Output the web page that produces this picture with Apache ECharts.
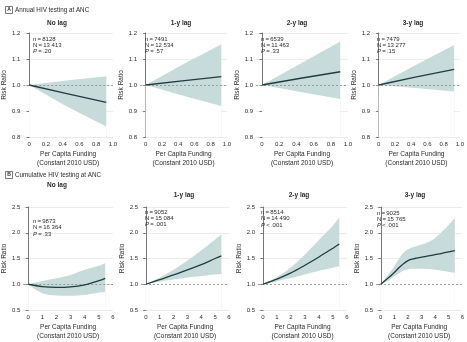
<!DOCTYPE html>
<html>
<head>
<meta charset="utf-8">
<script src="https://cdn.jsdelivr.net/npm/echarts@6/dist/echarts.min.js"></script>
<style>
  html, body { margin: 0; padding: 0; background: #fff; }
  #chart { width: 467px; height: 342px; }
</style>
</head>
<body>
<div id="chart"></div>
<script>
// panel titles
const lagTitles = ["No lag", "1-y lag", "2-y lag", "3-y lag"]

// A: annual HIV testing at ANC, funding 0-1
const annualX = [
  [0, 0.45, 0.92],
  [0, 0.45, 0.93],
  [0, 0.45, 0.91],
  [0, 0.45, 0.93]
]
const annualRR = [
  [1.0, 0.967, 0.933],
  [1.0, 1.016, 1.032],
  [1.0, 1.026, 1.051],
  [1.0, 1.03, 1.06]
]
const annualUpper = [
  [1.0, 1.017, 1.034],
  [1.0, 1.078, 1.157],
  [1.0, 1.083, 1.167],
  [1.0, 1.076, 1.154]
]
const annualLower = [
  [1.0, 0.917, 0.84],
  [1.0, 0.96, 0.919],
  [1.0, 0.973, 0.946],
  [1.0, 0.988, 0.975]
]
const annualStats = [
  ["8128", "13 413", "= .20"],
  ["7491", "12 534", "= .57"],
  ["6539", "11 463", "= .33"],
  ["7479", "13 277", "= .15"]
]

// B: cumulative HIV testing at ANC, funding 0-6
const cumX = [
  [0, 1, 2, 3, 4, 5, 5.45],
  [0, 1, 2, 3, 4, 5, 5.45],
  [0, 1, 2, 3, 4, 5, 5.45],
  [0, 0.5, 1, 1.5, 2, 2.5, 3, 3.5, 4, 4.5, 5, 5.45]
]
const cumRR = [
  [1.0, 0.955, 0.94, 0.95, 0.99, 1.07, 1.115],
  [1.0, 1.09, 1.18, 1.28, 1.38, 1.5, 1.55],
  [1.0, 1.1, 1.22, 1.37, 1.53, 1.7, 1.78],
  [1.0, 1.11, 1.23, 1.36, 1.46, 1.5, 1.525, 1.55, 1.575, 1.6, 1.63, 1.655]
]
const cumUpper = [
  [1.0, 1.065, 1.115, 1.18, 1.28, 1.36, 1.41],
  [1.0, 1.13, 1.28, 1.46, 1.66, 1.87, 1.97],
  [1.0, 1.14, 1.33, 1.58, 1.86, 2.14, 2.3],
  [1.0, 1.17, 1.35, 1.56, 1.68, 1.73, 1.77, 1.82, 1.9, 2.02, 2.15, 2.28]
]
const cumLower = [
  [1.0, 0.825, 0.78, 0.775, 0.79, 0.84, 0.85],
  [1.0, 1.05, 1.09, 1.13, 1.16, 1.19, 1.2],
  [1.0, 1.06, 1.12, 1.19, 1.26, 1.32, 1.35],
  [1.0, 1.06, 1.16, 1.24, 1.29, 1.3, 1.3, 1.295, 1.28, 1.26, 1.24, 1.225]
]
const cumStats = [
  ["9873", "16 364", "= .33"],
  ["9052", "15 084", "= .001"],
  ["8514", "14 490", "< .001"],
  ["9025", "15 765", "< .001"]
]

const annualTicks = [0, 0.2, 0.4, 0.6, 0.8, 1.0]
const cumTicks = [0, 1, 2, 3, 4, 5, 6]

const FONT = '"Liberation Sans Narrow", "Liberation Sans", sans-serif'
const FS = 6
const TEXT = "#2b2b2b"
const BAND = "#c7dbdb"
const LINE = "#1f3c3f"

const topLefts = [21, 140, 256, 373]
const topWidths = [92, 87, 92, 90]
const botLefts = [21, 141, 258, 376]
const botWidths = [92, 88, 89, 89]

const grids = []
const xAxes = []
const yAxes = []
const series = []
const graphics = []

function addPanel(idx, left, width, top, height, xs, rr, lo, hi, xCfg, yCfg, smooth) {
  grids.push({ left: left, top: top, width: width, height: height })
  xAxes.push({
    gridIndex: idx, type: "value", min: xCfg.min, max: xCfg.max,
    name: "Per Capita Funding\n(Constant 2010 USD)",
    nameLocation: "middle", nameGap: 13,
    nameTextStyle: { fontFamily: FONT, fontSize: FS + 0.5, color: TEXT, lineHeight: 9, verticalAlign: "top" },
    axisLine: { show: false }, axisTick: { show: false }, splitLine: { show: false },
    axisLabel: {
      customValues: xCfg.ticks, fontFamily: FONT, fontSize: FS, color: TEXT, margin: 4,
      formatter: v => xCfg.fmt(v)
    }
  })
  yAxes.push({
    gridIndex: idx, type: "value", min: yCfg.min, max: yCfg.max, interval: yCfg.interval,
    name: "Risk Ratio", nameLocation: "middle", nameGap: 12,
    nameTextStyle: { fontFamily: FONT, fontSize: FS + 0.5, color: TEXT },
    axisLine: { show: true, lineStyle: { color: "#555", width: 0.8 } },
    axisTick: { show: true, length: 2.5, lineStyle: { color: "#555", width: 0.8 } },
    axisLabel: { fontFamily: FONT, fontSize: FS, color: TEXT, margin: 3, formatter: v => v.toFixed(1) },
    splitLine: { show: true, lineStyle: { color: "#e6e6e6", width: 0.8 } }
  })
  // confidence band: upper edge filled down, lower edge filled white on top
  series.push({
    type: "line", xAxisIndex: idx, yAxisIndex: idx, smooth: smooth, z: 2,
    symbol: "none", silent: true, lineStyle: { width: 0 },
    areaStyle: { color: BAND, opacity: 1, origin: "start" },
    data: xs.map((x, i) => [x, hi[i]])
  })
  series.push({
    type: "line", xAxisIndex: idx, yAxisIndex: idx, smooth: smooth, z: 3,
    symbol: "none", silent: true, lineStyle: { width: 0 },
    areaStyle: { color: "#fff", opacity: 1, origin: "start" },
    data: xs.map((x, i) => [x, lo[i]])
  })
  series.push({
    type: "line", xAxisIndex: idx, yAxisIndex: idx, smooth: smooth,
    symbol: "none", silent: true, z: 5,
    lineStyle: { color: LINE, width: 1.3 },
    data: xs.map((x, i) => [x, rr[i]]),
    markLine: {
      silent: true, symbol: "none", label: { show: false },
      lineStyle: { color: "#8a8a8a", type: [2, 2], width: 0.8 },
      data: [{ yAxis: 1.0 }]
    }
  })
}

function statText(x, y, s) {
  const base = { fontFamily: FONT, fontSize: FS, fill: TEXT }
  graphics.push({ type: "text", left: x, top: y, z: 10, style: Object.assign({ text: "n\u2009=\u2009" + s[0] }, base) })
  graphics.push({ type: "text", left: x, top: y + 6.3, z: 10, style: Object.assign({ text: "N\u2009=\u2009" + s[1] }, base) })
  graphics.push({
    type: "text", left: x, top: y + 12.6, z: 10,
    style: Object.assign({
      text: "{i|P}\u2009" + s[2].replace(" ", "\u2009"),
      rich: { i: { fontStyle: "italic", fontFamily: FONT, fontSize: FS, fill: TEXT } }
    }, base)
  })
}

function panelHeader(letter, title, y) {
  graphics.push({ type: "rect", shape: { x: 5.5, y: y - 3.5, width: 7, height: 7 },
    style: { fill: "#fff", stroke: "#444", lineWidth: 0.7 } })
  graphics.push({ type: "text", x: 9, y: y, style: { text: letter, fontFamily: FONT, fontSize: 5,
    fontWeight: "bold", fill: TEXT, align: "center", verticalAlign: "middle" } })
  graphics.push({ type: "text", x: 15, y: y, style: { text: title, fontFamily: FONT, fontSize: FS + 0.3,
    fill: TEXT, verticalAlign: "middle" } })
}

const topCenters = [57, 181, 297, 413]
const botCenters = [57, 184, 299, 415]
const topStatX = [33, 145, 261, 377]
const botStatX = [33, 145, 261, 377]
const botStatY = [218.5, 209, 209.5, 210]
const botTitleY = [185, 195, 195, 195]

panelHeader("A", "Annual HIV testing at ANC", 10)
panelHeader("B", "Cumulative HIV testing at ANC", 175)

for (let i = 0; i < 4; i++) {
  addPanel(i, topLefts[i], topWidths[i], 33, 104,
    annualX[i], annualRR[i], annualLower[i], annualUpper[i],
    { min: -0.07, max: 1, ticks: annualTicks, fmt: v => (v === 0 ? "0" : v.toFixed(1)) },
    { min: 0.8, max: 1.2, interval: 0.1 }, false)
  graphics.push({ type: "text", x: topCenters[i], y: 23, style: { text: lagTitles[i], fontFamily: FONT,
    fontSize: FS + 0.5, fontWeight: "bold", fill: TEXT, align: "center", verticalAlign: "middle" } })
  statText(topStatX[i], 36, annualStats[i])
}

for (let i = 0; i < 4; i++) {
  addPanel(i + 4, botLefts[i], botWidths[i], 207, 103,
    cumX[i], cumRR[i], cumLower[i], cumUpper[i],
    { min: -0.35, max: 6, ticks: cumTicks, fmt: v => String(v) },
    { min: 0.5, max: 2.5, interval: 0.5 }, 0.35)
  graphics.push({ type: "text", x: botCenters[i], y: botTitleY[i], style: { text: lagTitles[i], fontFamily: FONT,
    fontSize: FS + 0.5, fontWeight: "bold", fill: TEXT, align: "center", verticalAlign: "middle" } })
  statText(botStatX[i], botStatY[i], cumStats[i])
}

const chart = echarts.init(document.getElementById("chart"), null, { renderer: "canvas" })
chart.setOption({
  animation: false,
  backgroundColor: "#fff",
  grid: grids,
  xAxis: xAxes,
  yAxis: yAxes,
  series: series,
  graphic: graphics
})
</script>
</body>
</html>
